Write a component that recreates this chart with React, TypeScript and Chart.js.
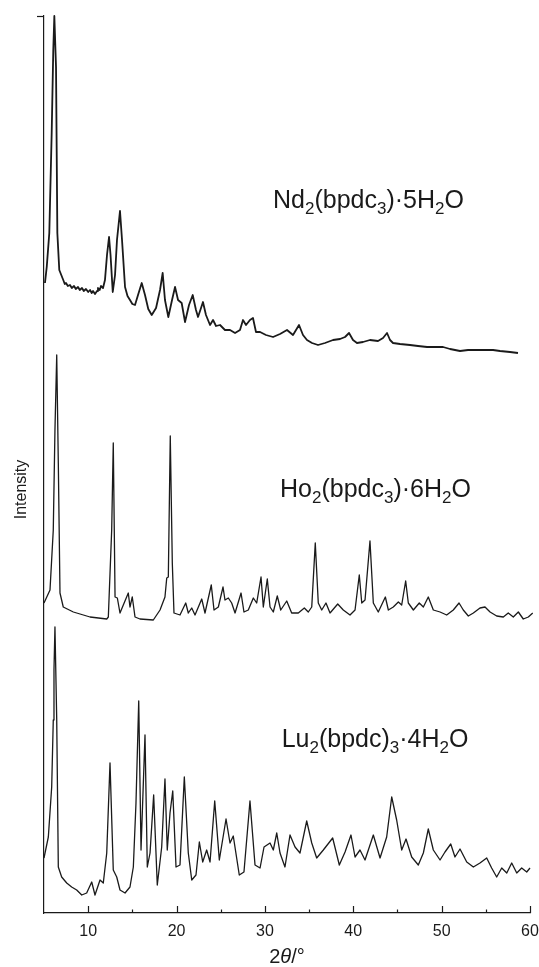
import { useEffect, useRef } from "react";
import { Chart, registerables } from "chart.js";

Chart.register(...registerables);

// Powder X-ray diffraction patterns of three lanthanide bpdc hydrates.
// Each pattern is a list of [2θ in degrees, intensity in arbitrary units];
// the patterns are already stacked with their vertical offsets.

const THETA_MIN = 5;
const THETA_MAX = 60;
const INTENSITY_MIN = 0;
const INTENSITY_MAX = 897;

const xMajorTicks = [10, 20, 30, 40, 50, 60];
const xMinorTicks = [15, 25, 35, 45, 55];

const ndPattern: [number, number][] = [
  [5.11, 630], [5.31, 646], [5.6, 680], [5.87, 780], [6.05, 863], [6.17, 897],
  [6.36, 846], [6.51, 680], [6.73, 643], [7.18, 633], [7.35, 629], [7.49, 630],
  [7.7, 627], [7.94, 628], [8.15, 625], [8.4, 627], [8.6, 624], [8.85, 626],
  [9.05, 623], [9.3, 625], [9.5, 622], [9.75, 624], [10.0, 621], [10.21, 623],
  [10.4, 620], [10.55, 622], [10.77, 619], [11.0, 622], [11.11, 625], [11.3, 623],
  [11.45, 627], [11.68, 625], [11.9, 633], [12.13, 658], [12.36, 676], [12.53, 658],
  [12.78, 621], [13.04, 638], [13.26, 673], [13.6, 702], [13.83, 673], [14.17, 626],
  [14.45, 617], [14.73, 613], [15.0, 609], [15.3, 608], [15.64, 618], [16.06, 630],
  [16.43, 618], [16.8, 604], [17.19, 598], [17.68, 605], [18.13, 623], [18.43, 640],
  [18.69, 613], [19.07, 596], [19.49, 613], [19.83, 626], [20.17, 613], [20.58, 610],
  [20.96, 591], [21.41, 608], [21.83, 618], [22.2, 603], [22.43, 596], [22.77, 605],
  [22.99, 611], [23.33, 598], [23.79, 588], [24.13, 593], [24.47, 587], [24.92, 588],
  [25.48, 583], [26.05, 583], [26.62, 580], [27.18, 583], [27.52, 593], [27.86, 588],
  [28.31, 593], [28.65, 595], [28.99, 581], [29.45, 581], [30.12, 578], [30.92, 576],
  [31.71, 579], [32.5, 583], [33.18, 578], [33.86, 588], [34.31, 578], [34.76, 573],
  [35.33, 570], [36.01, 568], [36.8, 570], [37.71, 573], [38.5, 574], [39.07, 576],
  [39.52, 580], [39.97, 573], [40.42, 570], [41.1, 571], [41.89, 573], [42.8, 572],
  [43.37, 575], [43.82, 580], [44.16, 573], [44.5, 570], [45.29, 569], [46.42, 568],
  [47.33, 567], [48.35, 566], [49.25, 566], [50.16, 566], [50.95, 564], [52.08, 562],
  [52.99, 563], [54.01, 563], [54.91, 563], [55.82, 563], [56.61, 562], [57.74, 561],
  [58.64, 560],
];

const hoPattern: [number, number][] = [
  [5.0, 310], [5.68, 323], [6.05, 383], [6.24, 483], [6.44, 558], [6.62, 450],
  [6.81, 320], [7.18, 306], [8.32, 301], [10.21, 296], [12.1, 294], [12.28, 296],
  [12.66, 383], [12.84, 470], [13.04, 316], [13.3, 315], [13.6, 300], [14.54, 320],
  [14.73, 306], [14.99, 316], [15.3, 296], [15.86, 294], [17.37, 293], [18.13, 303],
  [18.69, 316], [18.89, 335], [19.07, 336], [19.29, 477], [19.52, 350], [19.71, 300],
  [20.39, 298], [21.04, 310], [21.33, 300], [21.72, 305], [22.09, 298], [22.85, 314],
  [23.22, 300], [23.93, 328], [24.24, 303], [24.73, 306], [25.26, 326], [25.48, 313],
  [25.86, 315], [26.24, 310], [26.62, 300], [27.3, 320], [27.63, 301], [28.12, 303],
  [28.69, 315], [29.07, 310], [29.56, 336], [29.82, 306], [30.27, 334], [30.58, 306],
  [30.95, 301], [31.4, 317], [31.79, 303], [32.47, 312], [33.03, 300], [33.78, 300],
  [34.46, 305], [34.91, 301], [35.3, 306], [35.7, 370], [36.04, 310], [36.43, 303],
  [36.91, 310], [37.37, 300], [38.24, 309], [38.87, 303], [39.63, 298], [40.2, 303],
  [40.68, 338], [40.96, 310], [41.33, 313], [41.89, 372], [42.27, 310], [42.83, 301],
  [43.63, 316], [43.97, 303], [44.53, 306], [45.1, 311], [45.48, 308], [45.93, 332],
  [46.23, 310], [46.8, 303], [47.47, 310], [47.93, 306], [48.49, 316], [49.06, 303],
  [49.82, 301], [50.57, 298], [51.32, 303], [51.97, 310], [52.45, 303], [53.02, 297],
  [53.59, 300], [54.34, 305], [54.91, 306], [55.48, 301], [56.23, 297], [56.98, 296],
  [57.54, 300], [58.11, 296], [58.68, 301], [59.24, 294], [59.81, 296], [60.31, 300],
];

const luPattern: [number, number][] = [
  [5.0, 55], [5.49, 76], [5.87, 126], [6.05, 193], [6.13, 243], [6.24, 286],
  [6.44, 193], [6.62, 46], [7.0, 36], [7.57, 30], [8.13, 26], [8.7, 23],
  [9.27, 18], [9.83, 20], [10.4, 31], [10.77, 18], [11.34, 33], [11.71, 30],
  [12.1, 60], [12.47, 150], [12.84, 43], [13.23, 36], [13.6, 23], [14.17, 20],
  [14.73, 26], [15.11, 46], [15.41, 110], [15.72, 212], [15.98, 63], [16.43, 178],
  [16.69, 46], [17.0, 60], [17.41, 118], [17.82, 28], [18.32, 66], [18.69, 134],
  [18.95, 63], [19.26, 100], [19.57, 122], [19.94, 46], [20.39, 48], [20.88, 136],
  [21.33, 60], [21.72, 33], [22.2, 38], [22.58, 71], [22.96, 51], [23.41, 63],
  [23.79, 51], [24.32, 112], [24.84, 53], [25.6, 94], [26.05, 70], [26.42, 77],
  [27.1, 38], [27.63, 41], [28.31, 112], [28.88, 48], [29.45, 45], [29.9, 66],
  [30.58, 70], [30.95, 63], [31.34, 80], [31.71, 60], [32.27, 46], [32.84, 78],
  [33.41, 66], [33.97, 60], [34.73, 92], [35.3, 70], [35.86, 55], [36.61, 63],
  [37.67, 75], [38.42, 48], [39.07, 61], [39.74, 78], [40.2, 56], [40.76, 63],
  [41.33, 53], [42.27, 78], [43.03, 55], [43.78, 76], [44.35, 116], [44.91, 93],
  [45.48, 63], [45.97, 74], [46.61, 56], [47.36, 48], [47.93, 60], [48.49, 84],
  [49.06, 63], [49.82, 53], [50.38, 61], [51.03, 69], [51.51, 56], [52.08, 64],
  [52.84, 51], [53.59, 46], [54.34, 50], [55.1, 55], [55.66, 45], [56.23, 36],
  [56.8, 45], [57.37, 40], [57.93, 50], [58.5, 40], [59.06, 45], [59.63, 41],
  [60.0, 45],
];

// Formula labels: [text, isSubscript]
type Part = [string, boolean];
const ndFormula: Part[] = [["Nd", false], ["2", true], ["(bpdc", false], ["3", true], [")·5H", false], ["2", true], ["O", false]];
const hoFormula: Part[] = [["Ho", false], ["2", true], ["(bpdc", false], ["3", true], [")·6H", false], ["2", true], ["O", false]];
const luFormula: Part[] = [["Lu", false], ["2", true], ["(bpdc)", false], ["3", true], ["·4H", false], ["2", true], ["O", false]];

const formulaLabels = [
  { parts: ndFormula, theta: 30.92, intensity: 705.5 },
  { parts: hoFormula, theta: 31.71, intensity: 415.7 },
  { parts: luFormula, theta: 31.9, intensity: 165.7 },
];

const FONT = '"Liberation Sans", Arial, Helvetica, sans-serif';
const INK = "#1a1a1a";

function drawParts(ctx: CanvasRenderingContext2D, parts: Part[], x: number, y: number, size: number, subSize: number, subShift: number) {
  let cx = x;
  for (const [text, sub] of parts) {
    ctx.font = `${sub ? subSize : size}px ${FONT}`;
    ctx.fillText(text, cx, sub ? y + subShift : y);
    cx += ctx.measureText(text).width;
  }
}

const decorations = {
  id: "xrdDecorations",
  afterDraw(chart: any) {
    const { ctx, chartArea, scales } = chart;
    const xs = scales.x;
    const ys = scales.y;
    ctx.save();
    ctx.strokeStyle = INK;
    ctx.lineWidth = 1.2;

    // inward x ticks
    const base = chartArea.bottom;
    const tick = (v: number, len: number) => {
      const px = Math.round(xs.getPixelForValue(v)) + 0.5;
      ctx.beginPath();
      ctx.moveTo(px, base);
      ctx.lineTo(px, base - len);
      ctx.stroke();
    };
    xMajorTicks.forEach((v) => tick(v, 7));
    xMinorTicks.forEach((v) => tick(v, 3.5));

    // outward tick at the top of the intensity axis
    const topY = Math.round(ys.getPixelForValue(INTENSITY_MAX)) + 0.5;
    ctx.beginPath();
    ctx.moveTo(chartArea.left - 7, topY);
    ctx.lineTo(chartArea.left, topY);
    ctx.stroke();

    ctx.fillStyle = INK;
    ctx.textBaseline = "alphabetic";
    ctx.textAlign = "left";

    // sample formulas
    for (const lab of formulaLabels) {
      const px = xs.getPixelForValue(lab.theta);
      const py = ys.getPixelForValue(lab.intensity);
      drawParts(ctx, lab.parts, px, py, 25, 17, 6);
    }

    // x-axis title: 2θ/° with italic theta
    const titleParts: [string, string][] = [["2", "normal"], ["θ", "italic"], ["/°", "normal"]];
    let total = 0;
    for (const [t, st] of titleParts) {
      ctx.font = `${st} 20px ${FONT}`;
      total += ctx.measureText(t).width;
    }
    let tx = (chartArea.left + chartArea.right) / 2 - total / 2;
    const ty = chartArea.bottom + 50;
    for (const [t, st] of titleParts) {
      ctx.font = `${st} 20px ${FONT}`;
      ctx.fillText(t, tx, ty);
      tx += ctx.measureText(t).width;
    }

    // y-axis title
    ctx.translate(chartArea.left - 22, (chartArea.top + chartArea.bottom) / 2 + 25);
    ctx.rotate(-Math.PI / 2);
    ctx.font = `16px ${FONT}`;
    ctx.textAlign = "center";
    ctx.textBaseline = "middle";
    ctx.fillText("Intensity", 0, 0);
    ctx.restore();
  },
};

const toPoints = (p: [number, number][]) => p.map(([x, y]) => ({ x, y }));

export default function App() {
  const ref = useRef<HTMLCanvasElement>(null);

  useEffect(() => {
    const line = (label: string, pattern: [number, number][], width: number) => ({
      label,
      data: toPoints(pattern),
      borderColor: INK,
      borderWidth: width,
      borderJoinStyle: "round" as const,
      pointRadius: 0,
      tension: 0,
      fill: false,
      clip: false as any,
    });

    const chart = new Chart(ref.current!, {
      type: "line",
      data: {
        datasets: [
          line("Nd2(bpdc3)·5H2O", ndPattern, 1.8),
          line("Ho2(bpdc3)·6H2O", hoPattern, 1.3),
          line("Lu2(bpdc)3·4H2O", luPattern, 1.3),
        ],
      },
      options: {
        responsive: false,
        animation: false,
        events: [],
        layout: { padding: { left: 0, right: 0, top: 16, bottom: 0 } },
        plugins: { legend: { display: false }, tooltip: { enabled: false } },
        scales: {
          x: {
            type: "linear",
            min: THETA_MIN,
            max: THETA_MAX,
            afterBuildTicks: (s: any) => {
              s.ticks = xMajorTicks.map((v) => ({ value: v }));
            },
            ticks: {
              font: { family: FONT, size: 16 },
              color: INK,
              padding: 9,
              maxRotation: 0,
              autoSkip: false,
            },
            grid: { display: false, drawTicks: false },
            border: { display: true, color: INK, width: 1.2 },
            afterFit: (s: any) => {
              s.height = 54;
              s.paddingLeft = 0;
              s.paddingRight = 9;
            },
          },
          y: {
            type: "linear",
            min: INTENSITY_MIN,
            max: INTENSITY_MAX,
            ticks: { display: false },
            grid: { display: false, drawTicks: false },
            border: { display: true, color: INK, width: 1.2 },
            afterFit: (s: any) => {
              s.width = 44;
            },
          },
        },
      },
      plugins: [decorations],
    });
    return () => chart.destroy();
  }, []);

  return (
    <div style={{ position: "fixed", left: 0, top: 0, width: 539, height: 967, background: "#fff" }}>
      <canvas ref={ref} width={539} height={967} style={{ display: "block" }} />
    </div>
  );
}
